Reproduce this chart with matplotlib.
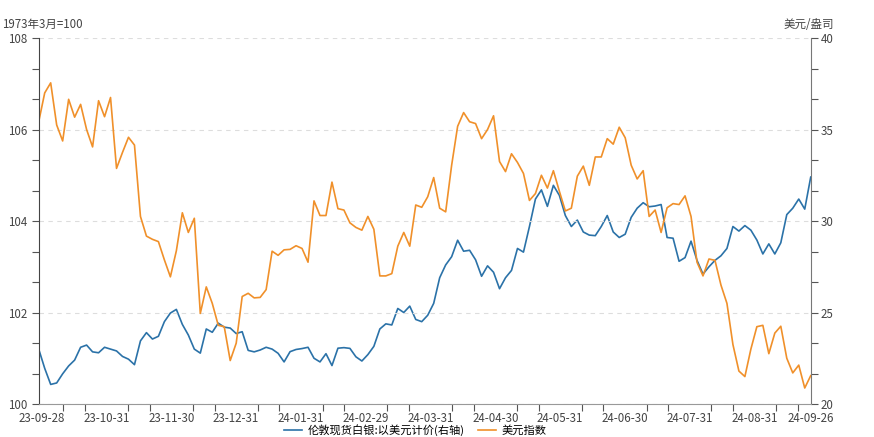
import numpy as np
import matplotlib
matplotlib.use("Agg")
import matplotlib.pyplot as plt
from matplotlib.ticker import MultipleLocator, FixedLocator

plt.rcParams['font.family'] = ['Noto Sans CJK SC', 'DejaVu Sans']

# tick labels along the category axis
date_labels = ["23-09-28", "23-10-31", "23-11-30", "23-12-31", "24-01-31", "24-02-29",
               "24-03-31", "24-04-30", "24-05-31", "24-06-30", "24-07-31", "24-08-31", "24-09-26"]

# 美元指数 (left axis)
usd_index = [106.17, 106.80, 107.02, 106.10, 105.75, 106.66, 106.27, 106.55, 106.00, 105.62,
             106.63, 106.28, 106.70, 105.15, 105.50, 105.83, 105.66, 104.10, 103.67, 103.60,
             103.55, 103.15, 102.78, 103.35, 104.18, 103.75, 104.06, 101.98, 102.56, 102.20,
             101.72, 101.69, 100.95, 101.33, 102.35, 102.42, 102.32, 102.33, 102.50, 103.34,
             103.25, 103.37, 103.38, 103.46, 103.40, 103.10, 104.44, 104.12, 104.12, 104.85,
             104.27, 104.24, 103.96, 103.86, 103.80, 104.10, 103.82, 102.80, 102.80, 102.85,
             103.45, 103.75, 103.45, 104.35, 104.30, 104.53, 104.95, 104.28, 104.20, 105.22,
             106.07, 106.37, 106.17, 106.13, 105.80, 106.00, 106.30, 105.30, 105.08, 105.47,
             105.28, 105.04, 104.45, 104.60, 105.00, 104.72, 105.10, 104.65, 104.22, 104.28,
             104.98, 105.20, 104.78, 105.40, 105.40, 105.80, 105.68, 106.05, 105.82, 105.22,
             104.92, 105.10, 104.10, 104.24, 103.75, 104.29, 104.38, 104.36, 104.55, 104.10,
             103.10, 102.80, 103.17, 103.14, 102.60, 102.20, 101.30, 100.72, 100.60, 101.20,
             101.69, 101.72, 101.10, 101.55, 101.70, 101.00, 100.68, 100.85, 100.35, 100.62]

# 伦敦现货白银:以美元计价 (right axis)
silver = [23.00, 21.95, 21.07, 21.15, 21.65, 22.08, 22.40, 23.10, 23.22, 22.85,
          22.80, 23.10, 23.00, 22.90, 22.60, 22.45, 22.15, 23.45, 23.90, 23.55,
          23.70, 24.50, 24.97, 25.17, 24.35, 23.77, 23.00, 22.78, 24.10, 23.92,
          24.42, 24.20, 24.15, 23.85, 23.95, 22.93, 22.85, 22.95, 23.10, 23.00,
          22.77, 22.30, 22.86, 22.98, 23.03, 23.10, 22.50, 22.30, 22.75, 22.10,
          23.05, 23.08, 23.04, 22.58, 22.35, 22.70, 23.15, 24.10, 24.38, 24.32,
          25.22, 25.00, 25.35, 24.62, 24.50, 24.85, 25.50, 26.90, 27.60, 28.05,
          28.95, 28.35, 28.40, 27.88, 26.98, 27.55, 27.20, 26.30, 26.90, 27.30,
          28.50, 28.30, 29.70, 31.20, 31.70, 30.80, 31.95, 31.40, 30.30, 29.70,
          30.05, 29.40, 29.23, 29.20, 29.70, 30.30, 29.40, 29.10, 29.28, 30.20,
          30.70, 31.00, 30.78, 30.82, 30.90, 29.10, 29.06, 27.80, 28.00, 28.90,
          27.85, 27.10, 27.50, 27.85, 28.10, 28.50, 29.70, 29.45, 29.75, 29.50,
          28.96, 28.20, 28.75, 28.20, 28.81, 30.35, 30.70, 31.20, 30.65, 32.40]

blue = '#2b72a8'
orange = '#f0902a'
text_c = '#444444'

x = np.arange(len(usd_index))
n = len(x)

fig = plt.figure(figsize=(8.74, 4.37), dpi=100)
ax = fig.add_axes([0.0443, 0.0755, 0.8833, 0.8375])
ax2 = ax.twinx()

l2, = ax2.plot(x, silver, color=blue, lw=1.2, label='伦敦现货白银:以美元计价(右轴)')
l1, = ax.plot(x, usd_index, color=orange, lw=1.2, label='美元指数')
ax.set_zorder(ax2.get_zorder() + 1)
ax.patch.set_visible(False)

ax.set_xlim(0, n - 1)
ax.set_ylim(100, 108)
ax2.set_ylim(20, 40)

# category axis: label every ~10.8 points, ticks at thirds
step = 10.83
major = [0.5 + step * m for m in range(12)] + [n - 1]
minor = [0.5 + step / 3 * k for k in range(36)]
ax.xaxis.set_major_locator(FixedLocator(major))
ax.xaxis.set_minor_locator(FixedLocator(minor))
ax.set_xticklabels(date_labels)

ax.yaxis.set_major_locator(MultipleLocator(2))
ax.yaxis.set_minor_locator(MultipleLocator(2 / 3))
ax2.yaxis.set_major_locator(MultipleLocator(5))
ax2.yaxis.set_minor_locator(MultipleLocator(5 / 3))

ax.grid(axis='y', which='major', linestyle=(0, (4, 4)), color='#dddddd', lw=0.8)

for a in (ax, ax2):
    a.spines['top'].set_visible(False)
    a.tick_params(which='both', colors='#555555', labelcolor=text_c, labelsize=8.3, length=5, width=0.8)
ax.tick_params(axis='x', which='major', length=0, pad=5.5, labelsize=8.3)
ax.tick_params(axis='x', which='minor', length=5)
ax2.tick_params(axis='y', which='major', pad=2)
ax.spines['left'].set_color('#444444')
ax.spines['bottom'].set_color('#999999')
ax2.spines['right'].set_color('#777777')
ax2.spines['left'].set_visible(False)
ax2.spines['bottom'].set_visible(False)
ax.spines['right'].set_visible(False)

fig.text(0.002, 0.945, '1973年3月=100', ha='left', va='center', fontsize=8.3, color=text_c)
fig.text(0.925, 0.945, '美元/盎司', ha='center', va='center', fontsize=8.3, color=text_c)

fig.legend(handles=[l2, l1], loc='lower center', bbox_to_anchor=(0.475, -0.008), ncol=2,
           frameon=False, fontsize=8.1, handlelength=1.6, columnspacing=1.2, handletextpad=0.5,
           borderaxespad=0.2, borderpad=0.2)

fig.savefig('out.png', dpi=100)
